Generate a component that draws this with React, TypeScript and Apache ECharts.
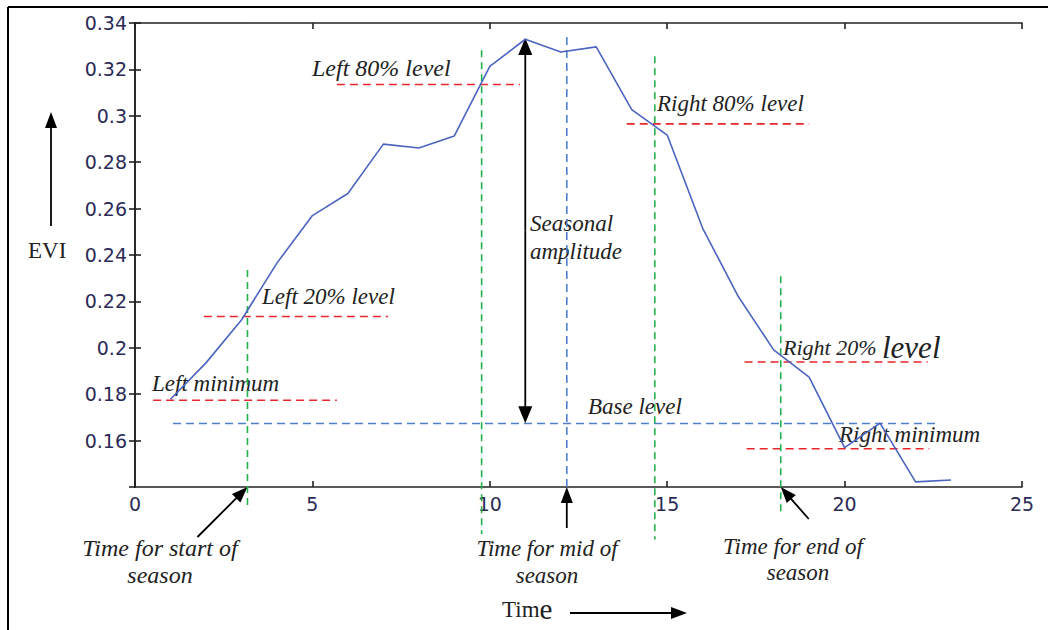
import React, { useEffect, useRef } from "react";
import * as echarts from "echarts";

// EVI time series
const time = [1, 2, 3, 4, 5, 6, 7, 8, 9, 10, 11, 12, 13, 14, 15, 16, 17, 18, 19, 20, 21, 22, 23];
const evi = [0.1778, 0.1935, 0.212, 0.2365, 0.257, 0.2665, 0.2878, 0.2861, 0.2913, 0.3213, 0.333, 0.3275,
  0.3297, 0.3027, 0.2917, 0.2515, 0.2222, 0.1991, 0.1874, 0.157, 0.1675, 0.1422, 0.143];

// red dashed levels: [value, fromTime, toTime]
const leftMin = [0.1774, 0.51, 5.69];
const left20 = [0.2135, 1.94, 7.13];
const left80 = [0.3135, 5.69, 10.85];
const right80 = [0.2965, 13.86, 19.0];
const right20 = [0.1939, 17.18, 22.34];
const rightMin = [0.1565, 17.24, 22.39];
// blue dashed base level: [value, fromTime, toTime]
const baseLevel = [0.1674, 1.07, 22.68];
// vertical markers: [time, topValue, bottomValue]
const startSeason = [3.17, 0.2335, 0.1309];
const left80Time = [9.77, 0.3283, 0.1196];
const midSeason = [12.17, 0.334, 0.14];
const right80Time = [14.65, 0.3257, 0.1174];
const endSeason = [18.2, 0.2308, 0.1287];
// seasonal amplitude arrow: [time, top, bottom]
const amplitude = [11.0, 0.3335, 0.1675];

const xTicks = [0, 5, 10, 15, 20, 25];
const yTicks = [0.14, 0.16, 0.18, 0.2, 0.22, 0.24, 0.26, 0.28, 0.3, 0.32, 0.34];

const RED = "#e8262b";
const GREEN = "#22b04b";
const BLUE = "#4f7fc9";
const CURVE = "#4b64bf";
const LABEL = "#2b2b58";
const TXT = "#222222";
const SERIF = "Liberation Serif";
const SANS = "DejaVu Sans";

function hLine(l: number[], color: string) {
  return {
    type: "line",
    data: [[l[1], l[0]], [l[2], l[0]]],
    symbol: "none",
    silent: true,
    clip: false,
    lineStyle: { color, width: 1.6, type: [8, 5] },
  };
}
function vLine(l: number[], color: string, dash: number[]) {
  return {
    type: "line",
    data: [[l[0], l[1]], [l[0], l[2]]],
    symbol: "none",
    silent: true,
    clip: false,
    lineStyle: { color, width: 1.6, type: dash },
  };
}

function arrow(tail: number[], tip: number[], len = 16, half = 6, width = 1.8): any[] {
  const dx = tip[0] - tail[0];
  const dy = tip[1] - tail[1];
  const d = Math.sqrt(dx * dx + dy * dy);
  const ux = dx / d, uy = dy / d;
  const bx = tip[0] - ux * len, by = tip[1] - uy * len;
  const px = -uy, py = ux;
  return [
    { type: "line", shape: { x1: tail[0], y1: tail[1], x2: bx + ux * 2, y2: by + uy * 2 }, style: { stroke: "#000", lineWidth: width }, silent: true },
    { type: "polygon", shape: { points: [[tip[0], tip[1]], [bx + px * half, by + py * half], [bx - px * half, by - py * half]] }, style: { fill: "#000" }, silent: true },
  ];
}

function txt(x: number, y: number, text: string, size = 23, italic = true, align = "left") {
  return {
    type: "text",
    x, y,
    silent: true,
    style: {
      text,
      fill: TXT,
      fontSize: size,
      fontStyle: italic ? "italic" : "normal",
      fontFamily: SERIF,
      align,
      verticalAlign: "middle",
    },
  };
}

export default function App() {
  const ref = useRef<HTMLDivElement>(null);
  useEffect(() => {
    if (!ref.current) return;
    const chart = echarts.init(ref.current, null, { renderer: "svg" });
    const axisLine = { show: true, lineStyle: { color: "#222", width: 1.6 } };
    const axisTick = { show: true, inside: true, length: 6, lineStyle: { color: "#222", width: 1.6 } };
    chart.setOption({
      animation: false,
      backgroundColor: "#ffffff",
      grid: { left: 135, right: 26, top: 23, bottom: 143, containLabel: false },
      xAxis: [
        {
          type: "value", min: xTicks[0], max: xTicks[xTicks.length - 1], interval: 5, position: "bottom",
          axisLine, axisTick, splitLine: { show: false },
          axisLabel: { color: LABEL, fontSize: 19, fontFamily: SANS, margin: 7 },
        },
        {
          type: "value", min: xTicks[0], max: xTicks[xTicks.length - 1], interval: 5, position: "top",
          axisLine, axisTick, splitLine: { show: false }, axisLabel: { show: false },
        },
      ],
      yAxis: [
        {
          type: "value", min: yTicks[0], max: yTicks[yTicks.length - 1], interval: 0.02, position: "left",
          axisLine, axisTick, splitLine: { show: false },
          axisLabel: {
            color: LABEL, fontSize: 19, fontFamily: SANS, margin: 8, showMinLabel: false,
            formatter: (v: number) => String(+v.toFixed(2)),
          },
        },
        {
          type: "value", min: yTicks[0], max: yTicks[yTicks.length - 1], interval: 0.02, position: "right",
          axisLine, axisTick, splitLine: { show: false }, axisLabel: { show: false },
        },
      ],
      series: [
        hLine(leftMin, RED),
        hLine(left20, RED),
        hLine(left80, RED),
        hLine(right80, RED),
        hLine(right20, RED),
        hLine(rightMin, RED),
        hLine(baseLevel, BLUE),
        vLine(midSeason, BLUE, [8, 5]),
        vLine(startSeason, GREEN, [7, 5]),
        vLine(left80Time, GREEN, [7, 5]),
        vLine(right80Time, GREEN, [7, 5]),
        vLine(endSeason, GREEN, [7, 5]),
        {
          type: "line",
          data: time.map((t, i) => [t, evi[i]]),
          symbol: "none",
          silent: true,
          lineStyle: { color: CURVE, width: 1.6 },
        },
      ],
    });

    const p = (x: number, y: number) => chart.convertToPixel({ xAxisIndex: 0, yAxisIndex: 0 }, [x, y]) as number[];
    const ampTop = p(amplitude[0], amplitude[1]);
    const ampBot = p(amplitude[0], amplitude[2]);
    const ampMid = [ampTop[0], (ampTop[1] + ampBot[1]) / 2];
    const axisY = p(0, yTicks[0])[1];
    const startX = p(startSeason[0], 0.2)[0];
    const midX = p(midSeason[0], 0.2)[0];
    const endX = p(endSeason[0], 0.2)[0];

    const graphic: any[] = [
      // outer frame
      { type: "line", shape: { x1: 8, y1: 7, x2: 8, y2: 630 }, style: { stroke: "#000", lineWidth: 2 }, silent: true },
      { type: "line", shape: { x1: 8, y1: 7, x2: 1048, y2: 7 }, style: { stroke: "#000", lineWidth: 2 }, silent: true },
      ...arrow(ampMid, ampTop, 17, 7),
      ...arrow(ampMid, ampBot, 17, 7),
      ...arrow([51, 226], [51, 112], 16, 6),
      ...arrow([570, 613], [687, 613], 16, 6),
      ...arrow([startX - 50, axisY + 50], [startX, axisY], 16, 6),
      ...arrow([midX, axisY + 41], [midX, axisY], 16, 6),
      ...arrow([endX + 28, axisY + 32], [endX, axisY], 16, 6),
      txt(312, 68, "Left 80% level", 24),
      txt(657, 103, "Right 80% level"),
      txt(530, 223, "Seasonal"),
      txt(530, 251, "amplitude"),
      txt(262, 296, "Left 20% level"),
      txt(152, 383, "Left minimum"),
      txt(588, 406, "Base level"),
      {
        type: "text", x: 783, y: 347, silent: true,
        style: {
          text: "{a|Right 20% }{b|level}",
          verticalAlign: "middle",
          rich: {
            a: { fill: TXT, fontSize: 22, fontStyle: "italic", fontFamily: SERIF },
            b: { fill: TXT, fontSize: 31, fontStyle: "italic", fontFamily: SERIF },
          },
        },
      },
      txt(839, 434, "Right minimum"),
      txt(160, 548, "Time for start of", 24, true, "center"),
      txt(160, 575, "season", 24, true, "center"),
      txt(547, 548, "Time for mid of", 23, true, "center"),
      txt(547, 575, "season", 23, true, "center"),
      txt(793, 546, "Time for end of", 23, true, "center"),
      txt(798, 572, "season", 23, true, "center"),
      txt(28, 250, "EVI", 23, false),
      {
        type: "text", x: 502, y: 609, silent: true,
        style: {
          text: "{a|Tim}{b|e}",
          verticalAlign: "middle",
          rich: {
            a: { fill: TXT, fontSize: 23, fontFamily: SERIF },
            b: { fill: TXT, fontSize: 29, fontFamily: SERIF },
          },
        },
      },
    ];
    chart.setOption({ graphic });
    return () => chart.dispose();
  }, []);
  return <div ref={ref} style={{ position: "absolute", left: 0, top: 0, width: 1048, height: 630 }} />;
}
